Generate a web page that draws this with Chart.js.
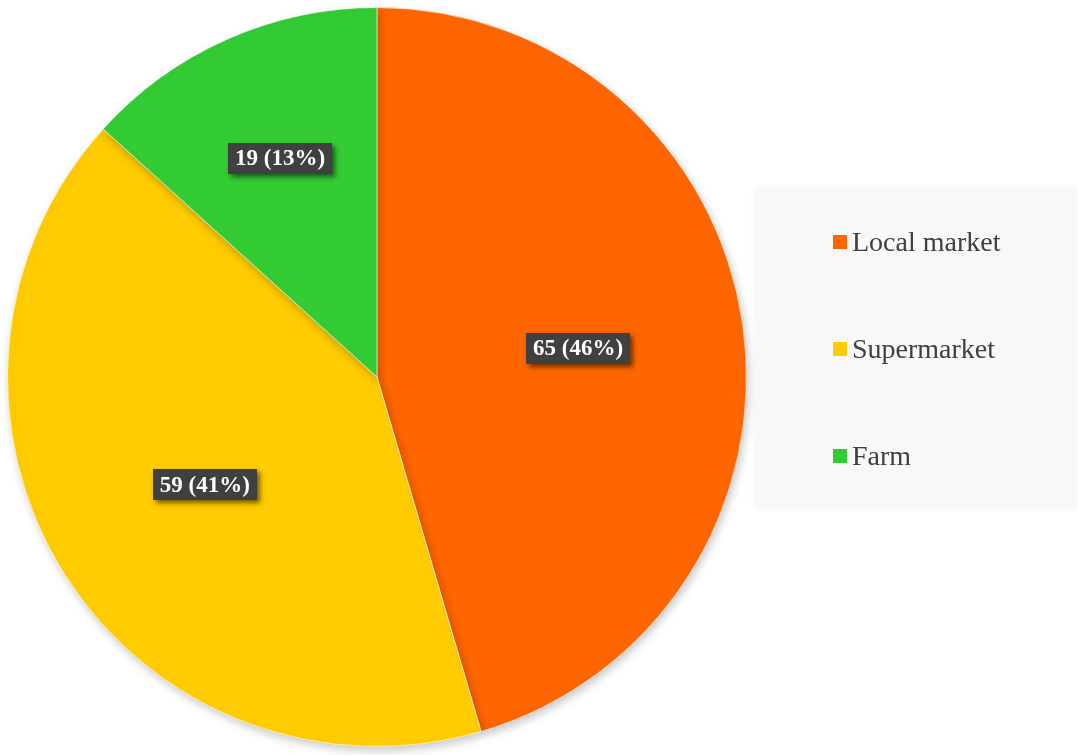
<!DOCTYPE html>
<html>
<head>
<meta charset="utf-8">
<script src="https://cdn.jsdelivr.net/npm/chart.js@4"></script>
<style>
html,body{margin:0;padding:0;background:#ffffff;}
#wrap{position:relative;width:1078px;height:755px;}
</style>
</head>
<body>
<div id="wrap"><canvas id="c" width="1078" height="755"></canvas></div>
<script>
const categories = ["Local market", "Supermarket", "Farm"];
const values = [65, 59, 19];
const percentLabels = [46, 41, 13];
const colors = ["#FF6600", "#FFCC00", "#33CC33"];

const SERIF = '"Liberation Serif", "Times New Roman", serif';

const shadowPlugin = {
  id: 'pieShadow',
  beforeDatasetsDraw(chart) {
    const ctx = chart.ctx;
    ctx.save();
    ctx.shadowColor = 'rgba(0,0,0,0.22)';
    ctx.shadowBlur = 10;
    ctx.shadowOffsetX = 2;
    ctx.shadowOffsetY = 4;
  },
  afterDatasetsDraw(chart) {
    chart.ctx.restore();
  }
};

const labelPlugin = {
  id: 'boxLabels',
  afterDraw(chart) {
    const ctx = chart.ctx;
    const meta = chart.getDatasetMeta(0);
    ctx.save();
    ctx.font = 'bold 23px ' + SERIF;
    ctx.textAlign = 'center';
    ctx.textBaseline = 'middle';
    meta.data.forEach((arc, i) => {
      const p = arc.getProps(['x','y','startAngle','endAngle','outerRadius'], true);
      const half = (p.endAngle - p.startAngle) / 2;
      const mid = p.startAngle + half;
      const centroid = 2 * Math.sin(half) / (3 * half);
      const r = p.outerRadius * Math.max(0.55, centroid);
      const x = p.x + Math.cos(mid) * r;
      const y = p.y + Math.sin(mid) * r;
      const txt = values[i] + ' (' + percentLabels[i] + '%)';
      const w = ctx.measureText(txt).width + 14;
      const h = 31;
      ctx.save();
      ctx.shadowColor = 'rgba(0,0,0,0.55)';
      ctx.shadowBlur = 5;
      ctx.shadowOffsetX = 3;
      ctx.shadowOffsetY = 3;
      ctx.fillStyle = '#404040';
      ctx.fillRect(Math.round(x - w/2), Math.round(y - h/2), Math.round(w), h);
      ctx.restore();
      ctx.fillStyle = '#ffffff';
      ctx.fillText(txt, x, y + 1);
    });
    ctx.restore();
  }
};

const legendPlugin = {
  id: 'boxLegend',
  afterDraw(chart) {
    const ctx = chart.ctx;
    ctx.save();
    const bx = 755, by = 188, bw = 320, bh = 320;
    ctx.shadowColor = 'rgba(0,0,0,0.06)';
    ctx.shadowBlur = 6;
    ctx.fillStyle = '#f8f8f8';
    ctx.fillRect(bx, by, bw, bh);
    ctx.shadowColor = 'transparent';
    ctx.font = '28px ' + SERIF;
    ctx.textBaseline = 'alphabetic';
    ctx.textAlign = 'left';
    const rowStep = 107;
    chart.data.labels.forEach((lab, i) => {
      const cy = 242 + i * rowStep;
      ctx.fillStyle = chart.data.datasets[0].backgroundColor[i];
      ctx.fillRect(833, cy - 7, 14, 14);
      ctx.fillStyle = '#404040';
      ctx.fillText(lab, 852, cy + 9);
    });
    ctx.restore();
  }
};

new Chart(document.getElementById('c'), {
  type: 'pie',
  data: {
    labels: categories,
    datasets: [{
      data: values,
      backgroundColor: colors,
      borderColor: 'rgba(255,255,255,0.6)',
      borderWidth: 1
    }]
  },
  options: {
    responsive: false,
    animation: false,
    layout: { padding: { top: 7, bottom: 8, left: 7, right: 331 } },
    plugins: {
      legend: { display: false },
      tooltip: { enabled: false }
    }
  },
  plugins: [shadowPlugin, labelPlugin, legendPlugin]
});
</script>
</body>
</html>
